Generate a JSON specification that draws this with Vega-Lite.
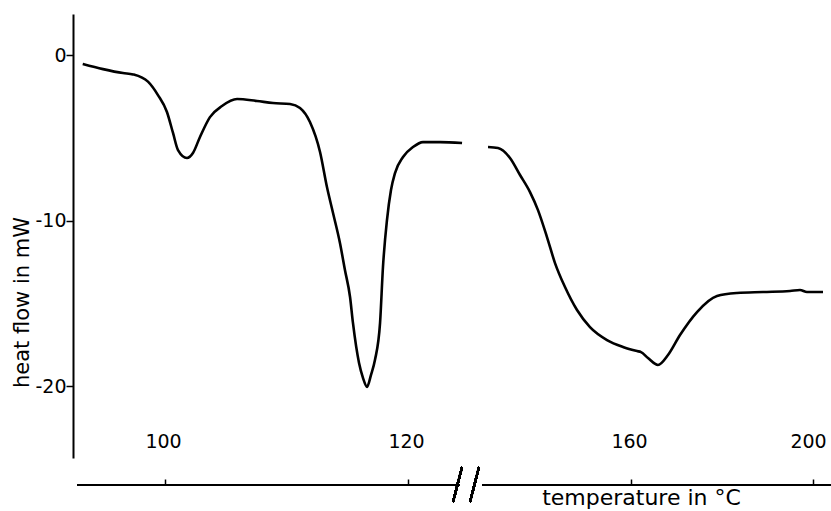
{
  "$schema": "https://vega.github.io/schema/vega-lite/v6.json",
  "width": 758,
  "height": 444,
  "autosize": {"type": "none"},
  "padding": {"left": 73, "top": 14, "right": 0, "bottom": 53},
  "background": "white",
  "config": {"view": {"stroke": null}, "font": "DejaVu Sans"},
  "data": {"values": [
    {"seg": "a", "T": 93.23, "hf": -0.54},
    {"seg": "a", "T": 94.90, "hf": -0.85},
    {"seg": "a", "T": 96.54, "hf": -1.09},
    {"seg": "a", "T": 97.37, "hf": -1.17},
    {"seg": "a", "T": 98.60, "hf": -1.61},
    {"seg": "a", "T": 99.42, "hf": -2.42},
    {"seg": "a", "T": 100.16, "hf": -3.44},
    {"seg": "a", "T": 100.66, "hf": -4.71},
    {"seg": "a", "T": 101.07, "hf": -5.74},
    {"seg": "a", "T": 101.81, "hf": -6.22},
    {"seg": "a", "T": 102.30, "hf": -5.92},
    {"seg": "a", "T": 102.88, "hf": -4.95},
    {"seg": "a", "T": 103.70, "hf": -3.75},
    {"seg": "a", "T": 104.69, "hf": -3.08},
    {"seg": "a", "T": 105.93, "hf": -2.66},
    {"seg": "a", "T": 107.57, "hf": -2.78},
    {"seg": "a", "T": 108.89, "hf": -2.90},
    {"seg": "a", "T": 110.29, "hf": -2.96},
    {"seg": "a", "T": 111.11, "hf": -3.20},
    {"seg": "a", "T": 111.93, "hf": -4.05},
    {"seg": "a", "T": 112.76, "hf": -5.86},
    {"seg": "a", "T": 113.33, "hf": -7.98},
    {"seg": "a", "T": 113.83, "hf": -9.55},
    {"seg": "a", "T": 114.40, "hf": -11.36},
    {"seg": "a", "T": 114.81, "hf": -12.99},
    {"seg": "a", "T": 115.23, "hf": -14.62},
    {"seg": "a", "T": 115.47, "hf": -16.19},
    {"seg": "a", "T": 115.97, "hf": -18.61},
    {"seg": "a", "T": 116.30, "hf": -19.52},
    {"seg": "a", "T": 116.63, "hf": -20.05},
    {"seg": "a", "T": 116.95, "hf": -19.34},
    {"seg": "a", "T": 117.28, "hf": -18.43},
    {"seg": "a", "T": 117.70, "hf": -16.19},
    {"seg": "a", "T": 117.94, "hf": -12.81},
    {"seg": "a", "T": 118.27, "hf": -9.97},
    {"seg": "a", "T": 118.60, "hf": -8.16},
    {"seg": "a", "T": 118.93, "hf": -7.13},
    {"seg": "a", "T": 119.59, "hf": -6.16},
    {"seg": "a", "T": 120.43, "hf": -5.56},
    {"seg": "a", "T": 121.29, "hf": -5.26},
    {"seg": "a", "T": 122.76, "hf": -5.26},
    {"seg": "a", "T": 124.66, "hf": -5.32},
    {"seg": "b", "T": 129.67, "hf": -5.56},
    {"seg": "b", "T": 131.79, "hf": -5.62},
    {"seg": "b", "T": 134.33, "hf": -6.22},
    {"seg": "b", "T": 136.46, "hf": -7.25},
    {"seg": "b", "T": 138.58, "hf": -8.28},
    {"seg": "b", "T": 140.27, "hf": -9.37},
    {"seg": "b", "T": 142.18, "hf": -11.00},
    {"seg": "b", "T": 143.88, "hf": -12.57},
    {"seg": "b", "T": 146.00, "hf": -14.02},
    {"seg": "b", "T": 148.55, "hf": -15.41},
    {"seg": "b", "T": 151.30, "hf": -16.44},
    {"seg": "b", "T": 154.91, "hf": -17.22},
    {"seg": "b", "T": 158.30, "hf": -17.64},
    {"seg": "b", "T": 161.32, "hf": -17.89},
    {"seg": "b", "T": 162.20, "hf": -17.95},
    {"seg": "b", "T": 163.74, "hf": -18.31},
    {"seg": "b", "T": 165.93, "hf": -18.73},
    {"seg": "b", "T": 168.13, "hf": -18.13},
    {"seg": "b", "T": 170.77, "hf": -16.92},
    {"seg": "b", "T": 174.51, "hf": -15.53},
    {"seg": "b", "T": 178.90, "hf": -14.56},
    {"seg": "b", "T": 183.30, "hf": -14.38},
    {"seg": "b", "T": 189.01, "hf": -14.32},
    {"seg": "b", "T": 194.95, "hf": -14.26},
    {"seg": "b", "T": 197.14, "hf": -14.20},
    {"seg": "b", "T": 198.68, "hf": -14.32},
    {"seg": "b", "T": 202.20, "hf": -14.32}
  ]},
  "layer": [
    {
      "mark": {"type": "line", "color": "black", "strokeWidth": 2.6, "interpolate": "monotone"},
      "encoding": {
        "x": {
          "field": "T", "type": "quantitative",
          "scale": {"domain": [92.43, 100, 120, 125, 160, 200, 203.96], "range": [0, 92, 335, 393, 558, 740, 758], "nice": false, "zero": false},
          "axis": {
            "orient": "bottom", "offset": 27, "values": [100, 120, 160, 200],
            "domain": false, "grid": false,
            "tickSize": -6, "tickColor": "black", "tickWidth": 1.5,
            "labelPadding": -38, "labelBaseline": "middle", "labelFontSize": 19, "labelColor": "black",
            "labelOffset": {"condition": {"test": "datum.value == 200", "value": -5}, "value": -2},
            "labelFlush": false, "labelOverlap": false,
            "title": "temperature in °C", "titleFontSize": 22, "titleFontWeight": "normal", "titleColor": "black",
            "titleX": 568, "titleY": 12, "titleAlign": "center", "titleBaseline": "middle"
          }
        },
        "y": {
          "field": "hf", "type": "quantitative",
          "scale": {"domain": [-24.35, 2.48], "nice": false, "zero": false},
          "axis": {
            "values": [0, -10, -20], "grid": false,
            "domainColor": "black", "domainWidth": 2,
            "tickColor": "black", "tickSize": 7, "tickWidth": 1.5,
            "labelExpr": "'' + datum.value",
            "labelFontSize": 19, "labelColor": "black", "labelPadding": 0,
            "title": "heat flow in mW", "titleFontSize": 21, "titleFontWeight": "normal", "titleColor": "black",
            "titleX": -51, "titleY": 288, "titleAlign": "center", "titleBaseline": "middle", "titleAngle": -90
          }
        },
        "detail": {"field": "seg"},
        "order": {"field": "T"}
      }
    },
    {
      "mark": {"type": "rule", "color": "black", "strokeWidth": 2},
      "encoding": {
        "x": {"datum": 92.76, "type": "quantitative"},
        "x2": {"datum": 124.4},
        "y": {"datum": -25.98, "type": "quantitative"}
      }
    },
    {
      "mark": {"type": "rule", "color": "black", "strokeWidth": 2},
      "encoding": {
        "x": {"datum": 128.4, "type": "quantitative"},
        "x2": {"datum": 203.96},
        "y": {"datum": -25.98, "type": "quantitative"}
      }
    },
    {
      "mark": {"type": "rule", "color": "black", "strokeWidth": 2},
      "encoding": {
        "x": {"datum": 123.88, "type": "quantitative"},
        "x2": {"datum": 124.66},
        "y": {"datum": -27.01, "type": "quantitative"},
        "y2": {"datum": -24.89}
      }
    },
    {
      "mark": {"type": "rule", "color": "black", "strokeWidth": 2},
      "encoding": {
        "x": {"datum": 125.85, "type": "quantitative"},
        "x2": {"datum": 127.76},
        "y": {"datum": -27.01, "type": "quantitative"},
        "y2": {"datum": -24.89}
      }
    }
  ]
}
